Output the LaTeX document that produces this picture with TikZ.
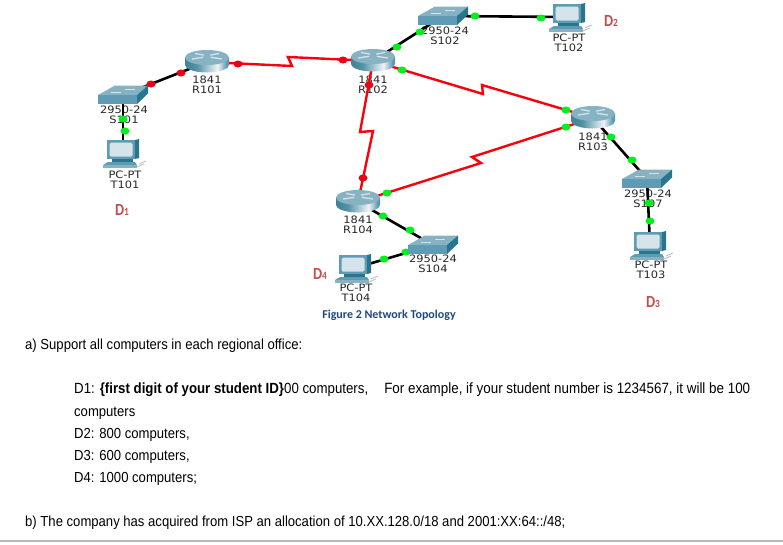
\documentclass[tikz,border=0pt]{standalone}
\usepackage{fontspec}
\usepackage{xcolor}
\usetikzlibrary{calc, shapes.geometric}
\setmainfont[FakeStretch=0.9]{Liberation Sans}
\newfontfamily\devfont[FakeStretch=1.12]{DejaVu Sans}
\newfontfamily\capfont{Carlito}
\newfontfamily\tagfont[FakeStretch=0.85]{Carlito}
\definecolor{NetNavy}{RGB}{31,73,125}
\definecolor{NetRed}{RGB}{192,80,77}
\definecolor{DotGreen}{RGB}{0,240,30}
\definecolor{DotRed}{RGB}{235,0,20}
\definecolor{LinkRed}{RGB}{250,0,10}
\definecolor{IconTop}{RGB}{135,178,194}
\definecolor{IconFront}{RGB}{95,155,178}
\definecolor{IconSide}{RGB}{40,118,142}
\definecolor{IconPale}{RGB}{213,227,234}
\pgfdeclarehorizontalshading{routerside}{100bp}{
  color(0bp)=(IconSide!85!black); color(38bp)=(IconSide!80!white);
  color(62bp)=(IconPale!40!white); color(72bp)=(IconFront); color(100bp)=(IconSide!90!black)}
\tikzset{
  devbox/.style={inner sep=0pt, minimum width=30pt, minimum height=14pt},
  devlabel/.style={font=\devfont\fontsize{10.2}{10.4}\selectfont, align=center, text=black!85, inner sep=0pt},
  lan/.style={line width=2.6pt, black},
  serial/.style={line width=2.4pt, LinkRed},
  gdot/.style={ellipse, fill=DotGreen, inner sep=0pt, minimum width=9pt, minimum height=7pt},
  rdot/.style={ellipse, fill=DotRed, inner sep=0pt, minimum width=9pt, minimum height=7pt},
  dlabel/.style={font=\tagfont\bfseries\fontsize{17}{17}\selectfont, text=NetRed, inner sep=0pt},
  bodytext/.style={anchor=base west, inner sep=0pt, font=\fontsize{14.55}{15}\selectfont, text=black}
}
\begin{document}
\begin{tikzpicture}[x=1pt,y=-1pt]
  \useasboundingbox (0,0) rectangle (783,544);
  % ---- Devices ----
  \foreach \n/\x/\y in {R101/207/62, R102/373/61, R103/593/118, R104/358/202,
                        S101/123/95, S102/443/16, S104/433/245, S107/647/179,
                        T101/123/153, T102/569/17, T103/650/245, T104/355/268} {
    \node[devbox] (\n) at (\x,\y) {};
  }
  % Device names
  \foreach \n/\x/\y/\m in {R101/207/85/1841, R102/373/85/1841, R103/593/142/1841, R104/358/225/1841,
                           S101/124/115/2950-24, S102/445/36/2950-24, S104/433/264/2950-24, S107/648/199/2950-24,
                           T101/125/180/PC-PT, T102/569/43/PC-PT, T103/651/270/PC-PT, T104/356/293/PC-PT} {
    \node[devlabel] (lbl\n) at (\x,\y) {\m\\\n};
  }
  % ---- Links ----
  \coordinate (zigA) at (292,66);
  \coordinate (zigB) at (288,57);
  \coordinate (zigC) at (483,94);
  \coordinate (zigD) at (482,85);
  \coordinate (zigE) at (360,132);
  \coordinate (zigF) at (373,131);
  \coordinate (zigG) at (481,163);
  \coordinate (zigH) at (472,157);
  \draw[serial] (R101.center) -- (zigA) -- (zigB) -- (R102.center);
  \draw[serial] (R102.center) -- (zigC) -- (zigD) -- (R103.center);
  \draw[serial] (R102.center) -- (zigE) -- (zigF) -- (R104.center);
  \draw[serial] (R104.center) -- (zigG) -- (zigH) -- (R103.center);
  \foreach \a/\b in {S101/R101, S101/T101, R102/S102, S102/T102,
                     R103/S107, S107/T103, R104/S104, S104/T104} {
    \draw[lan] (\a.center) -- (\b.center);
  }
  % Link lights
  \foreach \x/\y [count=\i] in {151/84, 181/73, 238/64, 343/60, 369/85, 363/178} {
    \node[rdot] (red\i) at (\x,\y) {};
  }
  \foreach \x/\y [count=\i] in {125/131, 123/119, 397/47, 402/70, 387/193, 383/216, 410/230,
                                420/32, 475/16, 541/18, 566/110, 566/127, 611/137, 632/160,
                                406/252, 384/259, 649/203, 650/221} {
    \node[gdot] (green\i) at (\x,\y) {};
  }
  % ---- Icons ----
  % Routers
  \foreach \n in {R101, R102, R103, R104} {
    \begin{scope}[shift={(\n.center)}]
      \shade[shading=routerside] (-22,-4.5) -- (-22,3) arc[start angle=180, end angle=360, x radius=22pt, y radius=7.5pt] -- (22,-4.5) -- cycle;
      \fill[IconTop] (0,-4.5) ellipse[x radius=22pt, y radius=7.5pt];
      \foreach \s/\t in {-15/-3, 15/-3, -12/-8.5, 12/-8.5} {
        \draw[IconPale, line width=1.3pt] (\s*1,\t) -- (\s*0.25,\t*0.4-3.5);
      }
    \end{scope}
  }
  % Switches
  \foreach \n in {S101, S102, S104, S107} {
    \begin{scope}[shift={(\n.center)}]
      \fill[IconTop] (-25,0) -- (-8,-9.5) -- (25,-9.5) -- (14,0) -- cycle;
      \fill[IconFront] (-25,0) rectangle (14,9);
      \fill[IconSide] (14,0) -- (25,-9.5) -- (25,-1.5) -- (14,9) -- cycle;
      \draw[IconPale, line width=.6pt] (-12,-3) -- (-2,-3) (2,-6) -- (12,-6);
    \end{scope}
  }
  % Computers
  \foreach \n in {T101, T102, T103, T104} {
    \begin{scope}[shift={(\n.center)}]
      \fill[IconSide] (12,-13) -- (16,-14) -- (16,5) -- (12,6) -- cycle;
      \fill[IconFront] (-16,-13) rectangle (12,6);
      \fill[IconPale, rounded corners=1.5pt] (-13.5,-10.5) rectangle (9.5,3.5);
      \fill[IconSide] (-11,6) rectangle (10,9);
      \fill[IconFront] (-15,9) -- (12,9) -- (14,12) -- (-20,12) -- cycle;
      \fill[IconTop] (-20,12) rectangle (14,14.5);
      \draw[black!25, line width=.9pt] (16,11) -- (23,8) (14,14) -- (21,11);
    \end{scope}
  }
  % ---- Region tags ----
  \foreach \n/\x/\y/\m in {D1/122/210/1, D2/611/21/2, D3/653/302/3, D4/320/274/4} {
    \node[dlabel] (tag\n) at (\x,\y) {D{\fontsize{11}{11}\selectfont\m}};
  }
  \node[font=\capfont\bfseries\fontsize{12}{12}\selectfont, text=NetNavy, inner sep=0pt] (caption) at (389,315) {Figure 2 Network Topology};
  % ---- Text below ----
  \node[bodytext] (parta) at (25,349) {a) Support all computers in each regional office:};
  \node[bodytext] (lineA) at (74,393) {\fontsize{14.75}{15}\selectfont D1: \textbf{\{first digit of your student ID\}}00 computers,\hspace{16pt}\fontsize{14.9}{15}\selectfont For example, if your student number is 1234567, it will be 100};
  \node[bodytext] (lineB) at (74,416) {computers};
  \node[bodytext] (lineC) at (74,438) {D2: 800 computers,};
  \node[bodytext] (lineD) at (74,460) {D3: 600 computers,};
  \node[bodytext] (lineE) at (74,482) {D4: 1000 computers;};
  \node[bodytext] (partb) at (25,526) {b) The company has acquired from ISP an allocation of 10.XX.128.0/18 and 2001:XX:64::/48;};
  \fill[black!28] (0,540) rectangle (783,542);
\end{tikzpicture}
\end{document}
